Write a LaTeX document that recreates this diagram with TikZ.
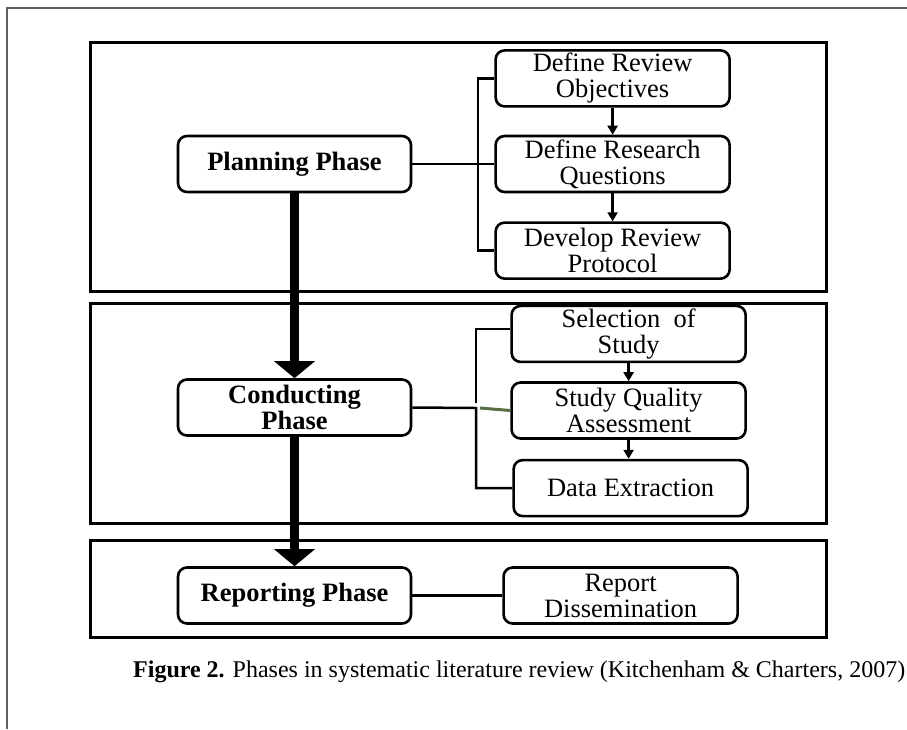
\documentclass[tikz,border=0pt]{standalone}
\usepackage{fontspec}
\setmainfont{Liberation Serif}
\usetikzlibrary{positioning,arrows.meta}

\definecolor{framegray}{RGB}{96,96,96}
\definecolor{linkgreen}{RGB}{88,110,68}

\tikzset{
	phase/.style={draw, line width=2.6pt, rounded corners=9pt, minimum width=233pt, minimum height=56pt, inner sep=0pt, align=center, font=\fontsize{26.5}{26}\selectfont\bfseries},
	task/.style={phase, minimum width=234pt, font=\fontsize{26.5}{26}\selectfont},
	stage/.style={draw, line width=3pt},
	link/.style={line width=2.5pt},
	flow/.style={line width=2.5pt, -{Triangle[width=10pt,length=9pt]}},
	bigflow/.style={line width=9pt, -{Triangle[width=40pt,length=17pt]}},
}

\begin{document}
\begin{tikzpicture}[x=1pt,y=-1pt]
	\useasboundingbox (0,0) rectangle (907,729);
	\draw[framegray, line width=1.5pt] (7,729) -- (7,8) -- (907,8);

	\draw[stage] (90.5,42.5) rectangle (826,291);
	\draw[stage] (90.5,303) rectangle (826,523);
	\draw[stage] (90.5,540) rectangle (826,637);

	\node[phase] (p0) at (294.5,164) {Planning Phase};
	\node[task, right=82pt of p0] (p2) {Define Research\\Questions};
	\node[task, above=27pt of p2] (p1) {Define Review\\Objectives};
	\node[task, below=28pt of p2] (p3) {Develop Review\\Protocol};
	\coordinate (pb) at (478,164);

	\node[phase] (c0) at (294.5,407.5) {Conducting\\Phase};
	\node[task, right=98pt of c0, yshift=-3pt] (c2) {Study Quality\\Assessment};
	\node[task, above=18pt of c2] (c1) {Selection~ of\\Study};
	\node[task, below=19pt of c2, xshift=2pt] (c3) {Data Extraction};
	\coordinate (cb) at (476,408);

	\node[phase] (r0) at (294.5,595.5) {Reporting Phase};
	\node[task, right=90pt of r0] (r1) {Report\\Dissemination};

	\draw[link] (p0) -- (p2);
	\draw[link] (p1.west) -| (pb) |- (p3.west);
	\draw[flow] (p1) -- (p2);
	\draw[flow] (p2) -- (p3);

	\draw[link] (c0.east) -- (cb) |- (c3.west);
	\draw[link] ([yshift=5pt]cb) |- ([yshift=5pt]c1.west);
	\draw[linkgreen, line width=3pt] ([xshift=4pt]cb) -- (c2.west);
	\draw[flow] (c1.south) -- (c1.south |- c2.north);
	\draw[flow] (c2.south) -- (c2.south |- c3.north);

	\draw[link] (r0) -- (r1);

	\draw[bigflow] (p0) -- (c0);
	\draw[bigflow] (c0) -- (r0);

	\node[anchor=west, inner sep=0pt] (cap) at (133,672) {\fontsize{24}{26}\selectfont\textbf{Figure 2.} Phases in systematic literature review (Kitchenham \& Charters, 2007)};
\end{tikzpicture}
\end{document}
